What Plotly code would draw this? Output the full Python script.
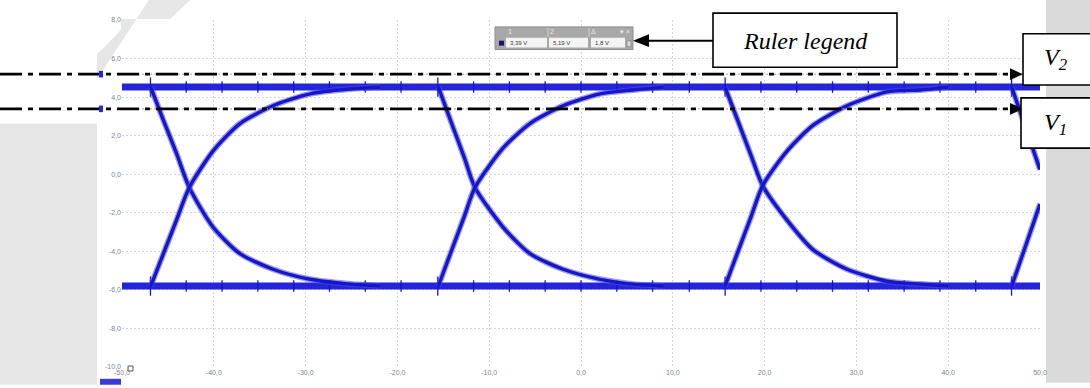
import plotly.graph_objects as go

# ---------------- axis ticks ----------------
x_ticks = [-50, -40, -30, -20, -10, 0, 10, 20, 30, 40, 50]
y_ticks = [-10, -8, -6, -4, -2, 0, 2, 4, 6, 8]


def comma(v, nd=1):
    return f"{v:.{nd}f}".replace(".", ",")


x_tick_text = [comma(v) for v in x_ticks]
y_tick_text = [comma(v) for v in y_ticks]

# ---------------- signal levels (V) ----------------
high_level = 4.52
low_level = -5.80

# ---------------- ruler readings (V) ----------------
ruler_v1 = 3.39
ruler_v2 = 5.19
ruler_delta = 1.8

# ---------------- edge traces, one per bit period ----------------
fall_1_t = [-46.87, -45.53, -44.04, -42.67, -40.09, -37.15, -33.55, -29.52, -25.16, -21.9]
fall_1_v = [4.52, 2.85, 1.05, -0.69, -2.74, -4.12, -4.93, -5.45, -5.70, -5.80]
rise_1_t = [-46.87, -45.53, -44.04, -42.67, -40.09, -37.15, -33.55, -29.52, -25.16, -21.9]
rise_1_v = [-5.80, -4.17, -2.35, -0.69, 1.20, 2.63, 3.55, 4.17, 4.42, 4.52]

fall_2_t = [-15.54, -13.91, -12.70, -11.55, -8.50, -5.56, -1.96, 2.07, 5.66, 9.0]
fall_2_v = [4.52, 2.40, 0.85, -0.69, -2.74, -4.12, -4.93, -5.45, -5.70, -5.80]
rise_2_t = [-15.54, -13.91, -12.70, -11.55, -8.50, -5.56, -1.96, 2.07, 5.66, 9.0]
rise_2_v = [-5.80, -3.71, -2.17, -0.69, 1.35, 2.63, 3.55, 4.17, 4.37, 4.52]

fall_3_t = [15.69, 17.32, 18.52, 19.79, 22.44, 25.27, 28.98, 33.33, 36.93, 40.0]
fall_3_v = [4.52, 2.48, 0.98, -0.59, -2.38, -3.91, -4.93, -5.55, -5.70, -5.80]
rise_3_t = [15.69, 17.32, 18.52, 19.79, 22.44, 25.27, 28.98, 33.33, 36.93, 40.0]
rise_3_v = [-5.80, -3.73, -2.21, -0.59, 1.20, 2.53, 3.55, 4.27, 4.37, 4.52]

fall_4_t = [46.92, 48.40, 50.0]
fall_4_v = [4.52, 2.46, 0.24]
rise_4_t = [46.92, 48.40, 50.0]
rise_4_v = [-5.80, -3.76, -1.55]

# noise spikes seen on both rails (ms)
spike_t = [-46.9, -43.0, -39.1, -35.2, -31.3, -27.4, -23.5, -19.6, -15.6, -11.7,
           -7.8, -3.9, 0.0, 3.9, 7.8, 11.8, 15.7, 19.6, 23.5, 27.4, 31.3, 35.2,
           39.1, 43.0, 46.9]
spike_half = [0.5, 0.3, 0.3, 0.3, 0.3, 0.3, 0.3, 0.3, 0.5, 0.3,
              0.3, 0.3, 0.3, 0.3, 0.3, 0.3, 0.5, 0.3, 0.3, 0.3, 0.3, 0.3,
              0.3, 0.3, 0.5]

BLUE = "#2424d8"
BLUE_CORE = "#1616c6"

# ---------------- figure geometry ----------------
W, H = 1090, 388
ML, MR, MT, MB = 122, 50, 20, 16
PW, PH = W - ML - MR, H - MT - MB


def pxx(p):
    """pixel column -> paper x"""
    return (p - ML) / PW


def pxy(p):
    """pixel row -> paper y"""
    return (H - MB - p) / PH


def arrow_head(tip_x, tip_y, direction, length, half):
    """filled triangular arrow head (pixel units) as a paper-space path"""
    bx = tip_x - direction * length
    return (f"M{pxx(tip_x)},{pxy(tip_y)} L{pxx(bx)},{pxy(tip_y - half)} "
            f"L{pxx(bx)},{pxy(tip_y + half)} Z")


fig = go.Figure()

# rails
for lvl in (high_level, low_level):
    fig.add_trace(go.Scatter(x=[-50, 50], y=[lvl, lvl], mode="lines",
                             line=dict(color=BLUE, width=7), hoverinfo="skip"))

# spikes
sx, sy = [], []
for t, h in zip(spike_t, spike_half):
    for lvl in (high_level, low_level):
        sx += [t, t, None]
        sy += [lvl - h, lvl + h, None]
fig.add_trace(go.Scatter(x=sx, y=sy, mode="lines",
                         line=dict(color=BLUE_CORE, width=1.3), hoverinfo="skip"))

# edges
edges = [
    (fall_1_t, fall_1_v), (rise_1_t, rise_1_v),
    (fall_2_t, fall_2_v), (rise_2_t, rise_2_v),
    (fall_3_t, fall_3_v), (rise_3_t, rise_3_v),
    (fall_4_t, fall_4_v), (rise_4_t, rise_4_v),
]
for t, v in edges:
    fig.add_trace(go.Scatter(x=t, y=v, mode="lines",
                             line=dict(color="#4a4aee", width=6, shape="spline", smoothing=0.7),
                             opacity=0.55, hoverinfo="skip"))
    fig.add_trace(go.Scatter(x=t, y=v, mode="lines",
                             line=dict(color=BLUE_CORE, width=3.4, shape="spline", smoothing=0.7),
                             hoverinfo="skip"))

shapes = []
annotations = []

# faint background watermark patches (margins only)
shapes.append(dict(type="rect", xref="paper", yref="paper", layer="below",
                   x0=pxx(1046), x1=pxx(1100), y0=pxy(388), y1=pxy(-5),
                   fillcolor="#dadada", line=dict(width=0)))
shapes.append(dict(type="rect", xref="paper", yref="paper", layer="below",
                   x0=pxx(-5), x1=pxx(97), y0=pxy(390), y1=pxy(125),
                   fillcolor="#e6e6e6", line=dict(width=0)))
shapes.append(dict(type="path", xref="paper", yref="paper", layer="below",
                   path=(f"M{pxx(150)},{pxy(-2)} L{pxx(192)},{pxy(-2)} L{pxx(170)},{pxy(19)} "
                         f"L{pxx(121)},{pxy(19)} L{pxx(121)},{pxy(30)} L{pxx(97)},{pxy(55)} "
                         f"L{pxx(97)},{pxy(80)} Z"),
                   fillcolor="#e6e6e6", line=dict(width=0)))

# scope ruler lines (thin dotted) and drawn dash-dot markers
for v in (ruler_v2, ruler_v1):
    shapes.append(dict(type="line", xref="x", yref="y", x0=-50, x1=50, y0=v, y1=v,
                       line=dict(color="#a0a0a0", width=1, dash="2px,2px")))
    shapes.append(dict(type="line", xref="paper", yref="y", x0=pxx(0), x1=pxx(1012),
                       y0=v, y1=v, line=dict(color="black", width=2.6,
                                             dash="22px,6px,5px,6px")))
    # ruler handles at the left edge
    shapes.append(dict(type="rect", xref="paper", yref="y", x0=pxx(99), x1=pxx(103),
                       y0=v - 0.17, y1=v + 0.17, fillcolor="#2a2ad0", line=dict(width=0)))

# arrow heads at the ends of the dash-dot markers
for tip_y in (20 + (8 - ruler_v2) * PH / 18, 20 + (8 - ruler_v1) * PH / 18):
    shapes.append(dict(type="path", xref="paper", yref="paper",
                       path=arrow_head(1023, tip_y, 1, 13, 6),
                       fillcolor="black", line=dict(width=0)))

shapes.append(dict(type="rect", xref="paper", yref="paper", x0=pxx(100), x1=pxx(121),
                   y0=pxy(390), y1=pxy(384), fillcolor="#3a3ad8", line=dict(width=0)))
shapes.append(dict(type="rect", xref="paper", yref="paper", x0=pxx(128), x1=pxx(133),
                   y0=pxy(376), y1=pxy(371), fillcolor="white",
                   line=dict(color="#555", width=1)))

# ruler legend widget
shapes.append(dict(type="rect", xref="paper", yref="paper", x0=pxx(495), x1=pxx(633),
                   y0=pxy(50), y1=pxy(27), fillcolor="#a8a8a8",
                   line=dict(color="#8c8c8c", width=1)))
for a, b in ((506, 547), (549, 588), (591, 625)):
    shapes.append(dict(type="rect", xref="paper", yref="paper", x0=pxx(a), x1=pxx(b),
                       y0=pxy(48), y1=pxy(38), fillcolor="#f4f4f4", line=dict(width=0)))
for xs in (548, 589):
    shapes.append(dict(type="line", xref="paper", yref="paper", x0=pxx(xs), x1=pxx(xs),
                       y0=pxy(37), y1=pxy(28), line=dict(color="#d0d0d0", width=1)))
shapes.append(dict(type="rect", xref="paper", yref="paper", x0=pxx(499), x1=pxx(504),
                   y0=pxy(46), y1=pxy(41), fillcolor="#161670", line=dict(width=0)))
shapes.append(dict(type="rect", xref="paper", yref="paper", x0=pxx(627), x1=pxx(631),
                   y0=pxy(47), y1=pxy(41), fillcolor="#d8d8d8",
                   line=dict(color="#777", width=0.6)))

small = dict(family="Liberation Sans", size=6, color="#3a3a3a")
for txt, xp in (("1", 510), ("2", 552), ("\u0394", 593), ("\u25be", 622), ("\u00d7", 628)):
    annotations.append(dict(x=pxx(xp), y=pxy(32), xref="paper", yref="paper", text=txt,
                            showarrow=False, font=dict(family="Liberation Sans", size=7,
                                                       color="#eeeeee"),
                            xanchor="center", yanchor="middle"))
for txt, xp in ((comma(ruler_v1, 2) + " V", 508), (comma(ruler_v2, 2) + " V", 551),
                (comma(ruler_delta, 1) + " V", 593)):
    annotations.append(dict(x=pxx(xp), y=pxy(43), xref="paper", yref="paper", text=txt,
                            showarrow=False, font=small, xanchor="left", yanchor="middle"))

# call-out boxes
serif = dict(family="Liberation Serif", size=24, color="black")
shapes.append(dict(type="rect", xref="paper", yref="paper", x0=pxx(713), x1=pxx(897),
                   y0=pxy(68), y1=pxy(13), fillcolor="white",
                   line=dict(color="black", width=1.6), layer="above"))
annotations.append(dict(x=pxx(805), y=pxy(41), xref="paper", yref="paper",
                        text="<i>Ruler legend</i>", showarrow=False, font=serif,
                        xanchor="center", yanchor="middle"))
shapes.append(dict(type="line", xref="paper", yref="paper", x0=pxx(645), x1=pxx(713),
                   y0=pxy(41), y1=pxy(41), line=dict(color="black", width=2)))
shapes.append(dict(type="path", xref="paper", yref="paper",
                   path=arrow_head(633, 41, -1, 16, 6.5),
                   fillcolor="black", line=dict(width=0)))

shapes.append(dict(type="rect", xref="paper", yref="paper", x0=pxx(1023), x1=pxx(1110),
                   y0=pxy(86), y1=pxy(34), fillcolor="white",
                   line=dict(color="black", width=1.6), layer="above"))
annotations.append(dict(x=pxx(1056), y=pxy(60), xref="paper", yref="paper",
                        text="<i>V<sub>2</sub></i>", showarrow=False, font=serif,
                        xanchor="center", yanchor="middle"))
shapes.append(dict(type="rect", xref="paper", yref="paper", x0=pxx(1021), x1=pxx(1110),
                   y0=pxy(150), y1=pxy(99), fillcolor="white",
                   line=dict(color="black", width=1.6), layer="above"))
annotations.append(dict(x=pxx(1055), y=pxy(125), xref="paper", yref="paper",
                        text="<i>V<sub>1</sub></i>", showarrow=False, font=serif,
                        xanchor="center", yanchor="middle"))

tick_font = dict(family="Liberation Sans", size=7, color="#7d8290")
axis_common = dict(showgrid=True, gridcolor="#cdd6e1", griddash="2px,2px", gridwidth=1,
                   zeroline=False, showline=False, ticks="", tickfont=tick_font)

fig.update_layout(
    width=W, height=H,
    margin=dict(l=ML, r=MR, t=MT, b=MB),
    paper_bgcolor="white",
    plot_bgcolor="white",
    showlegend=False,
    xaxis=dict(range=[-50, 50], tickvals=x_ticks, ticktext=x_tick_text, **axis_common),
    yaxis=dict(range=[-10, 8], tickvals=y_ticks, ticktext=y_tick_text, **axis_common),
    shapes=shapes,
    annotations=annotations,
)

fig.write_html("out.html")
